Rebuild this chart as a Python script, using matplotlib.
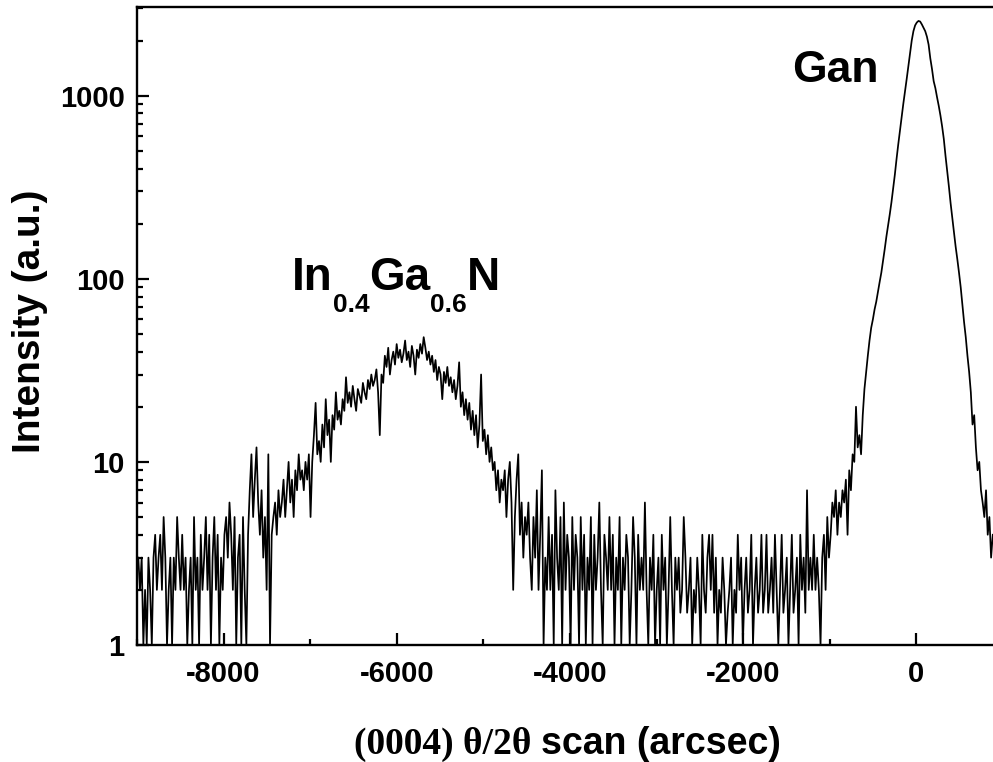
import numpy as np
import matplotlib
matplotlib.use('Agg')
import matplotlib.pyplot as plt
from matplotlib.ticker import LogLocator, NullFormatter, MultipleLocator

plt.rcParams['font.family'] = ['Liberation Sans', 'DejaVu Sans']

# (0004) theta/2theta scan, counts
scan_start = -8985   # arcsec
scan_step = 19.5     # arcsec per point
counts = [
    3, 2, 3, 1, 2, 1, 3, 2, 1, 3, 4, 2, 3, 4, 2, 5, 3, 1, 2, 3,
    1, 3, 2, 5, 3, 2, 4, 2, 3, 1, 2, 3, 1, 5, 2, 3, 1, 4, 2, 3,
    5, 2, 4, 1, 3, 5, 2, 4, 1, 3, 2, 4, 5, 3, 6, 4, 2, 5, 1, 3,
    4, 1, 5, 2, 1, 4, 7, 11, 5, 8, 12, 6, 4, 7, 3, 5, 2, 11, 1, 4,
    5, 6, 4, 7, 5, 6, 8, 5, 7, 10, 6, 8, 5, 9, 7, 11, 8, 9, 7, 10,
    8, 11, 5, 10, 14, 21, 11, 13, 10, 16, 12, 22, 14, 17, 10, 18, 15, 24, 17, 19,
    16, 22, 19, 29, 21, 24, 20, 26, 22, 19, 25, 23, 21, 27, 24, 22, 28, 25, 30, 26,
    28, 32, 24, 14, 30, 27, 38, 33, 42, 30, 36, 40, 34, 44, 37, 41, 35, 39, 46, 36,
    40, 33, 43, 38, 30, 41, 37, 44, 39, 48, 42, 36, 40, 34, 38, 31, 36, 28, 33, 30,
    22, 31, 27, 33, 26, 29, 24, 28, 22, 26, 35, 20, 24, 18, 22, 17, 21, 15, 19, 14,
    18, 12, 16, 30, 13, 15, 11, 14, 10, 12, 9, 10, 7, 9, 6, 8, 7, 9, 5, 8,
    10, 6, 2, 5, 8, 11, 4, 6, 3, 5, 4, 6, 3, 2, 5, 3, 7, 2, 4, 9,
    1, 3, 2, 5, 2, 4, 1, 7, 3, 2, 5, 1, 6, 2, 4, 3, 1, 5, 2, 4,
    3, 1, 5, 2, 4, 1, 3, 2, 5, 1, 4, 2, 3, 6, 2, 1, 4, 3, 2, 5,
    2, 4, 1, 3, 2, 5, 1, 3, 2, 4, 3, 1, 2, 5, 3, 1, 4, 2, 3, 2,
    6, 2, 1, 3, 2, 4, 1, 2, 3, 1, 4, 2, 3, 1, 2, 5, 2, 1, 3, 2,
    3, 1.5, 2, 5, 3, 1.5, 2, 3, 1, 2, 1.5, 3, 2, 1, 4, 2, 1.5, 3, 4, 2,
    4, 1.5, 3, 1, 2, 1.5, 3, 2, 1, 1.5, 2, 3, 1, 2, 1.5, 4, 2, 3, 1, 2,
    3, 1.5, 2, 4, 1, 2, 3, 1.5, 2, 4, 1.5, 2, 4, 1.5, 2, 3, 1.5, 4, 2, 1,
    2, 4, 1.5, 2, 3, 1, 2, 4, 1.5, 2, 3, 1, 4, 2, 3, 1.5, 7, 2, 3, 2,
    4, 2, 3, 2, 1, 3, 4, 2, 5, 3, 4, 6, 5, 7, 4, 6, 5, 7, 6, 8,
    4, 9, 7, 11, 10, 20, 12, 14, 11, 18, 25, 31, 38, 46, 54, 60, 68, 75, 85, 96,
    108, 125, 145, 170, 195, 225, 262, 310, 370, 450, 540, 640, 760, 900, 1050,
    1230, 1450, 1700, 2000, 2250,
    2420, 2510, 2560, 2540, 2450, 2350, 2250, 2100, 1900, 1600, 1400, 1200, 1100,
    980, 880, 780, 680, 580, 470, 390,
    320, 260, 215, 180, 150, 128, 108, 90, 72, 58, 48, 38, 31, 24, 16, 18, 12, 9, 10, 7,
    6, 5, 7, 4, 5, 3, 4,
]
angle = scan_start + scan_step * np.arange(len(counts))

x_ticks = [-8000, -6000, -4000, -2000, 0]
y_ticks = [1, 10, 100, 1000]

fig = plt.figure(figsize=(9.93, 7.62), dpi=100)
# axes run a little past the right edge, like the cropped original
ax = fig.add_axes([137 / 993, 117 / 762, 866 / 993, 638 / 762])

ax.plot(angle, counts, color='black', lw=1.25)

ax.set_yscale('log')
ax.set_xlim(-9000, 1000)
ax.set_ylim(1, 3050)

ax.set_xticks(x_ticks)
ax.set_xticklabels([str(t) for t in x_ticks])
ax.xaxis.set_minor_locator(MultipleLocator(1000))
ax.set_yticks(y_ticks)
ax.set_yticklabels([str(t) for t in y_ticks])
ax.yaxis.set_minor_locator(LogLocator(base=10, subs=range(2, 10)))
ax.yaxis.set_minor_formatter(NullFormatter())

ax.tick_params(which='both', direction='in', width=1.6, top=False, right=False)
ax.tick_params(which='major', length=8.5, labelsize=21)
ax.tick_params(axis='x', which='major', pad=11)
ax.tick_params(axis='y', which='major', pad=9)
ax.tick_params(which='minor', length=4)
for lab in ax.get_xticklabels() + ax.get_yticklabels():
    lab.set_fontweight('bold')

for side in ['left', 'bottom', 'top']:
    ax.spines[side].set_linewidth(1.7)
ax.spines['right'].set_visible(False)

# axis titles
fig.text(30 / 993, 1 - 321 / 762, 'Intensity (a.u.)', rotation=90,
         ha='center', va='center', fontsize=28, fontweight='bold')
fig.text(532 / 993, 1 - 754 / 762, '(0004) \u03b8/2\u03b8', ha='right', va='baseline',
         fontsize=27, fontweight='bold', family=['Liberation Serif', 'DejaVu Serif'])
fig.text(541 / 993, 1 - 754 / 762, 'scan (arcsec)', ha='left', va='baseline',
         fontsize=27, fontweight='bold')

# peak labels
ax.text(-1439, 1193, 'Gan', fontsize=32, fontweight='bold', va='baseline')

t = ax.text(-7212, 87, 'In', fontsize=33, fontweight='bold', va='baseline')
for s, fs, dy in [('0.4', 19, -16), ('Ga', 33, 0), ('0.6', 19, -16), ('N', 33, 0)]:
    t = ax.annotate(s, xy=(1, 87), xycoords=(t, 'data'), xytext=(0, dy),
                    textcoords='offset points', fontsize=fs, fontweight='bold',
                    va='baseline')

fig.savefig('out.png', dpi=100)
